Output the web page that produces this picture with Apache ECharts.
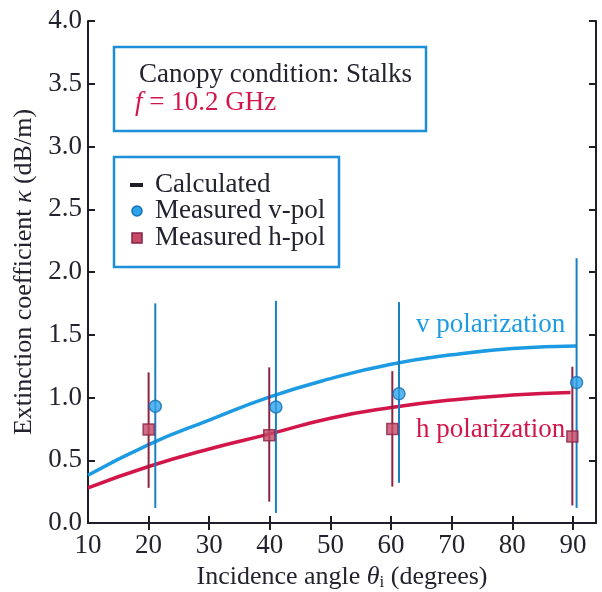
<!DOCTYPE html>
<html><head><meta charset="utf-8">
<script src="https://cdn.jsdelivr.net/npm/echarts@6/dist/echarts.min.js"></script>
<style>html,body{margin:0;padding:0;background:#fff}#c{width:602px;height:592px}</style>
</head><body><div id="c"></div>
<script>
// Data
const xTicks = [10, 20, 30, 40, 50, 60, 70, 80, 90];
const yTicks = [0, 0.5, 1, 1.5, 2, 2.5, 3, 3.5, 4];
const calcVX = [10, 20, 30, 40, 50, 60, 70, 80, 90.6];
const calcV = [0.38, 0.625, 0.82, 1.005, 1.15, 1.265, 1.34, 1.39, 1.41];
const calcHX = [10, 20, 30, 40, 50, 60, 70, 80, 89.6];
const calcH = [0.28, 0.45, 0.59, 0.71, 0.835, 0.92, 0.98, 1.02, 1.04];
const measVX = [21.1, 41.0, 61.3, 90.6];
const measV = [0.93, 0.925, 1.03, 1.12];
const measVLow = [0.12, 0.08, 0.32, 0.12];
const measVHigh = [1.75, 1.77, 1.76, 2.11];
const measHX = [20.0, 39.9, 60.2, 89.9];
const measH = [0.745, 0.70, 0.75, 0.69];
const measHLow = [0.28, 0.17, 0.29, 0.14];
const measHHigh = [1.20, 1.24, 1.21, 1.245];

const FONT = '"Liberation Serif", "Times New Roman", serif';
const FS = 27;
const TXT = '#23232f';
const BLUE = '#1c9be3';
const BLUE_D = '#1a7fc4';
const RED = '#d3164a';
const RED_D = '#8c2344';

const zip = (a, b) => a.map((v, i) => [v, b[i]]);
const errData = (x, lo, hi) => x.map((v, i) => [v, lo[i], hi[i]]);
function errRender(color) {
  return function (params, api) {
    const p1 = api.coord([api.value(0), api.value(1)]);
    const p2 = api.coord([api.value(0), api.value(2)]);
    return { type: 'line', shape: { x1: p1[0], y1: p1[1], x2: p2[0], y2: p2[1] },
      style: { stroke: color, lineWidth: 2 } };
  };
}

const chart = echarts.init(document.getElementById('c'), null, { renderer: 'canvas' });
const axisLine = { lineStyle: { color: '#1e1e28', width: 2 } };
const tick = { inside: true, length: 7, lineStyle: { color: '#1e1e28', width: 2 } };
chart.setOption({
  animation: false,
  grid: { left: 88, right: 6, top: 21, bottom: 69, containLabel: false, outerBoundsMode: 'none' },
  xAxis: [{
    type: 'value', min: 10, max: 93.8, position: 'bottom',
    axisLine, axisTick: Object.assign({ customValues: xTicks }, tick),
    splitLine: { show: false },
    axisLabel: { customValues: xTicks, fontFamily: FONT, fontSize: FS, color: TXT, margin: 9 },
    name: 'Incidence angle {i|θ}{s|i} (degrees)', nameLocation: 'middle', nameGap: 41,
    nameTextStyle: { fontFamily: FONT, fontSize: FS - 1, color: TXT, verticalAlign: 'top',
      rich: { i: { fontFamily: FONT, fontStyle: 'italic', fontSize: FS - 1, color: TXT },
              s: { fontFamily: FONT, fontSize: 17, color: TXT, padding: [10, 0, 0, 0] } } }
  }, {
    type: 'value', min: 10, max: 93.8, position: 'top',
    axisLine, axisTick: Object.assign({ customValues: xTicks.slice(1) }, tick),
    axisLabel: { show: false }, splitLine: { show: false }
  }],
  yAxis: [{
    type: 'value', min: 0, max: 4, interval: 0.5, position: 'left',
    axisLine, axisTick: tick, splitLine: { show: false },
    axisLabel: { fontFamily: FONT, fontSize: FS, color: TXT, margin: 6,
      formatter: v => v.toFixed(1) },
    name: 'Extinction coefficient {i|κ} (dB/m)', nameLocation: 'middle', nameGap: 51,
    nameTextStyle: { fontFamily: FONT, fontSize: FS - 1, color: TXT,
      rich: { i: { fontFamily: FONT, fontStyle: 'italic', fontSize: FS - 1, color: TXT } } }
  }, {
    type: 'value', min: 0, max: 4, interval: 0.5, position: 'right',
    axisLine, axisTick: tick, axisLabel: { show: false }, splitLine: { show: false }
  }],
  series: [
    { type: 'line', data: zip(calcVX, calcV), smooth: true, symbol: 'none',
      lineStyle: { color: BLUE, width: 3.5 }, z: 3 },
    { type: 'line', data: zip(calcHX, calcH), smooth: true, symbol: 'none',
      lineStyle: { color: RED, width: 3.5 }, z: 3 },
    { type: 'custom', data: errData(measHX, measHLow, measHHigh), renderItem: errRender(RED_D),
      encode: { x: 0, y: [1, 2] }, z: 4 },
    { type: 'custom', data: errData(measVX, measVLow, measVHigh), renderItem: errRender(BLUE_D),
      encode: { x: 0, y: [1, 2] }, z: 4 },
    { type: 'scatter', data: zip(measHX, measH), symbol: 'rect', symbolSize: 11,
      itemStyle: { color: '#c44a68', borderColor: RED_D, borderWidth: 1.5 }, z: 5 },
    { type: 'scatter', data: zip(measVX, measV), symbol: 'circle', symbolSize: 12,
      itemStyle: { color: '#2ea3ea', borderColor: '#1470b5', borderWidth: 1.5 }, z: 5 }
  ],
  graphic: [
    { type: 'rect', shape: { x: 114, y: 47, width: 312, height: 84 },
      style: { fill: '#fff', stroke: '#1b8fd8', lineWidth: 2.5 }, z: 10 },
    { type: 'text', x: 139, y: 75, style: { text: 'Canopy condition: Stalks', font: FS + 'px ' + FONT,
      fill: TXT, textVerticalAlign: 'middle' }, z: 11 },
    { type: 'text', x: 135, y: 103, style: { text: '{i|f}{n| = 10.2 GHz}', textVerticalAlign: 'middle',
      rich: { i: { fontFamily: FONT, fontStyle: 'italic', fontSize: FS, fill: RED },
              n: { fontFamily: FONT, fontSize: FS, fill: RED } } }, z: 11 },
    { type: 'rect', shape: { x: 114, y: 157, width: 225, height: 110 },
      style: { fill: '#fff', stroke: '#1b8fd8', lineWidth: 2.5 }, z: 10 },
    { type: 'rect', shape: { x: 130, y: 183, width: 13, height: 4 }, style: { fill: '#1e1e28' }, z: 11 },
    { type: 'circle', shape: { cx: 137, cy: 211, r: 5 },
      style: { fill: '#2ea3ea', stroke: '#1470b5', lineWidth: 1.5 }, z: 11 },
    { type: 'rect', shape: { x: 132, y: 233, width: 10, height: 10 },
      style: { fill: '#c44a68', stroke: RED_D, lineWidth: 1.5 }, z: 11 },
    { type: 'text', x: 155, y: 185, style: { text: 'Calculated', font: FS + 'px ' + FONT, fill: TXT, textVerticalAlign: 'middle' }, z: 11 },
    { type: 'text', x: 155, y: 211, style: { text: 'Measured v-pol', font: FS + 'px ' + FONT, fill: TXT, textVerticalAlign: 'middle' }, z: 11 },
    { type: 'text', x: 155, y: 238, style: { text: 'Measured h-pol', font: FS + 'px ' + FONT, fill: TXT, textVerticalAlign: 'middle' }, z: 11 },
    { type: 'text', x: 416, y: 325, style: { text: 'v polarization', font: FS + 'px ' + FONT, fill: BLUE, textVerticalAlign: 'middle' }, z: 11 },
    { type: 'text', x: 416, y: 430, style: { text: 'h polarization', font: FS + 'px ' + FONT, fill: RED, textVerticalAlign: 'middle' }, z: 11 }
  ]
});
</script></body></html>
